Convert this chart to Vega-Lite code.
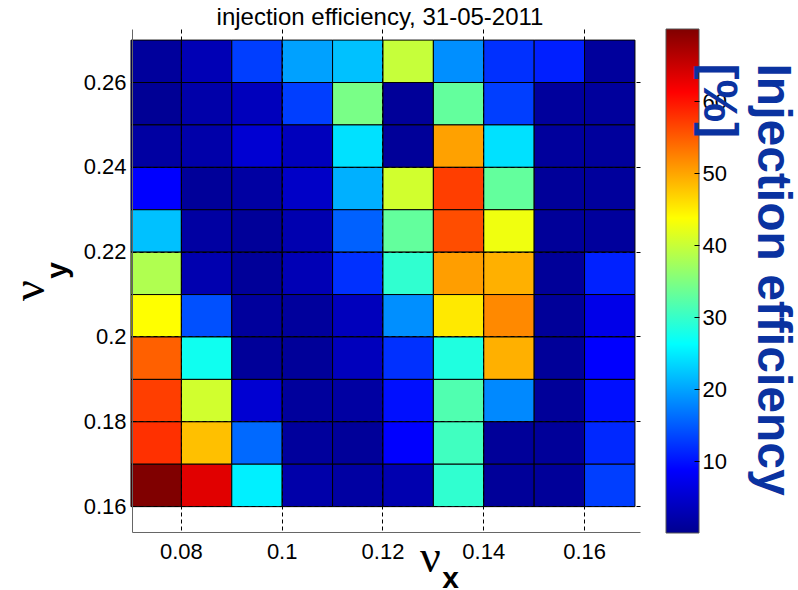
{
  "$schema": "https://vega.github.io/schema/vega-lite/v6.json",
  "background": "white",
  "padding": {"left": 6, "top": 6, "right": 0, "bottom": 0},
  "config": {"view": {"stroke": null}, "font": "Liberation Sans"},
  "bounds": "flush",
  "spacing": 26,
  "hconcat": [
    {
      "width": 508,
      "height": 503,
      "title": {"text": "injection efficiency, 31-05-2011", "fontSize": 24, "fontWeight": "normal", "font": "Liberation Sans", "color": "black", "baseline": "bottom", "offset": -25, "dx": -6, "frame": "group"},
      "data": {"values": [
        {"x": 0.07, "y": 0.26, "v": 1}, {"x": 0.08, "y": 0.26, "v": 3}, {"x": 0.09, "y": 0.26, "v": 13}, {"x": 0.10, "y": 0.26, "v": 19.8}, {"x": 0.11, "y": 0.26, "v": 22}, {"x": 0.12, "y": 0.26, "v": 39.8}, {"x": 0.13, "y": 0.26, "v": 18.5}, {"x": 0.14, "y": 0.26, "v": 12}, {"x": 0.15, "y": 0.26, "v": 10.9}, {"x": 0.16, "y": 0.26, "v": 1},
        {"x": 0.07, "y": 0.25, "v": 0.5}, {"x": 0.08, "y": 0.25, "v": 2}, {"x": 0.09, "y": 0.25, "v": 3.5}, {"x": 0.10, "y": 0.25, "v": 13}, {"x": 0.11, "y": 0.25, "v": 34.5}, {"x": 0.12, "y": 0.25, "v": 0.8}, {"x": 0.13, "y": 0.25, "v": 33}, {"x": 0.14, "y": 0.25, "v": 13}, {"x": 0.15, "y": 0.25, "v": 1}, {"x": 0.16, "y": 0.25, "v": 1},
        {"x": 0.07, "y": 0.24, "v": 1.5}, {"x": 0.08, "y": 0.24, "v": 2}, {"x": 0.09, "y": 0.24, "v": 5.2}, {"x": 0.10, "y": 0.24, "v": 3.5}, {"x": 0.11, "y": 0.24, "v": 24.2}, {"x": 0.12, "y": 0.24, "v": 0.8}, {"x": 0.13, "y": 0.24, "v": 50.2}, {"x": 0.14, "y": 0.24, "v": 24.2}, {"x": 0.15, "y": 0.24, "v": 1}, {"x": 0.16, "y": 0.24, "v": 1},
        {"x": 0.07, "y": 0.23, "v": 8.75}, {"x": 0.08, "y": 0.23, "v": 0.8}, {"x": 0.09, "y": 0.23, "v": 1.5}, {"x": 0.10, "y": 0.23, "v": 4.4}, {"x": 0.11, "y": 0.23, "v": 20.8}, {"x": 0.12, "y": 0.23, "v": 40.6}, {"x": 0.13, "y": 0.23, "v": 57}, {"x": 0.14, "y": 0.23, "v": 33}, {"x": 0.15, "y": 0.23, "v": 0.8}, {"x": 0.16, "y": 0.23, "v": 1},
        {"x": 0.07, "y": 0.22, "v": 22}, {"x": 0.08, "y": 0.22, "v": 1.5}, {"x": 0.09, "y": 0.22, "v": 0.8}, {"x": 0.10, "y": 0.22, "v": 2.5}, {"x": 0.11, "y": 0.22, "v": 15.4}, {"x": 0.12, "y": 0.22, "v": 33}, {"x": 0.13, "y": 0.22, "v": 56}, {"x": 0.14, "y": 0.22, "v": 42.7}, {"x": 0.15, "y": 0.22, "v": 0.8}, {"x": 0.16, "y": 0.22, "v": 1},
        {"x": 0.07, "y": 0.21, "v": 38.3}, {"x": 0.08, "y": 0.21, "v": 2.5}, {"x": 0.09, "y": 0.21, "v": 0.8}, {"x": 0.10, "y": 0.21, "v": 3}, {"x": 0.11, "y": 0.21, "v": 12}, {"x": 0.12, "y": 0.21, "v": 29.5}, {"x": 0.13, "y": 0.21, "v": 50.4}, {"x": 0.14, "y": 0.21, "v": 49.2}, {"x": 0.15, "y": 0.21, "v": 0.8}, {"x": 0.16, "y": 0.21, "v": 11},
        {"x": 0.07, "y": 0.20, "v": 43.75}, {"x": 0.08, "y": 0.20, "v": 14.2}, {"x": 0.09, "y": 0.20, "v": 1}, {"x": 0.10, "y": 0.20, "v": 1}, {"x": 0.11, "y": 0.20, "v": 3.5}, {"x": 0.12, "y": 0.20, "v": 18.5}, {"x": 0.13, "y": 0.20, "v": 45.3}, {"x": 0.14, "y": 0.20, "v": 51.9}, {"x": 0.15, "y": 0.20, "v": 0.8}, {"x": 0.16, "y": 0.20, "v": 7},
        {"x": 0.07, "y": 0.19, "v": 54.7}, {"x": 0.08, "y": 0.19, "v": 27.3}, {"x": 0.09, "y": 0.19, "v": 0.8}, {"x": 0.10, "y": 0.19, "v": 0.8}, {"x": 0.11, "y": 0.19, "v": 3.5}, {"x": 0.12, "y": 0.19, "v": 12}, {"x": 0.13, "y": 0.19, "v": 28.4}, {"x": 0.14, "y": 0.19, "v": 49.2}, {"x": 0.15, "y": 0.19, "v": 0.8}, {"x": 0.16, "y": 0.19, "v": 8.75},
        {"x": 0.07, "y": 0.18, "v": 57}, {"x": 0.08, "y": 0.18, "v": 40.6}, {"x": 0.09, "y": 0.18, "v": 5.2}, {"x": 0.10, "y": 0.18, "v": 1}, {"x": 0.11, "y": 0.18, "v": 1.5}, {"x": 0.12, "y": 0.18, "v": 9.8}, {"x": 0.13, "y": 0.18, "v": 31.7}, {"x": 0.14, "y": 0.18, "v": 18.1}, {"x": 0.15, "y": 0.18, "v": 0.8}, {"x": 0.16, "y": 0.18, "v": 9.8},
        {"x": 0.07, "y": 0.17, "v": 58}, {"x": 0.08, "y": 0.17, "v": 48.1}, {"x": 0.09, "y": 0.17, "v": 15.9}, {"x": 0.10, "y": 0.17, "v": 1}, {"x": 0.11, "y": 0.17, "v": 0.8}, {"x": 0.12, "y": 0.17, "v": 8.75}, {"x": 0.13, "y": 0.17, "v": 30.6}, {"x": 0.14, "y": 0.17, "v": 0.8}, {"x": 0.15, "y": 0.17, "v": 0.8}, {"x": 0.16, "y": 0.17, "v": 11.5},
        {"x": 0.07, "y": 0.16, "v": 70}, {"x": 0.08, "y": 0.16, "v": 63.3}, {"x": 0.09, "y": 0.16, "v": 25.2}, {"x": 0.10, "y": 0.16, "v": 2}, {"x": 0.11, "y": 0.16, "v": 1.5}, {"x": 0.12, "y": 0.16, "v": 2.5}, {"x": 0.13, "y": 0.16, "v": 29.5}, {"x": 0.14, "y": 0.16, "v": 0.8}, {"x": 0.15, "y": 0.16, "v": 0.8}, {"x": 0.16, "y": 0.16, "v": 13}
      ]},
      "layer": [
        {
          "mark": {"type": "rect", "stroke": "black", "strokeWidth": 1},
          "encoding": {
            "x": {"field": "x", "type": "quantitative", "bin": {"binned": true, "step": 0.01},
              "scale": {"domain": [0.0703, 0.1711], "nice": false, "zero": false},
              "axis": {"orient": "bottom", "values": [0.08, 0.1, 0.12, 0.14, 0.16], "format": ".2~f", "labelFontSize": 22, "labelColor": "black", "labelPadding": 9, "ticks": false, "domainColor": "#666666", "domainWidth": 1, "grid": true, "gridColor": "black", "gridDash": [4, 3], "gridWidth": 1, "gridOpacity": 1, "labelFlush": false, "labelOverlap": false,
                "title": "ν", "titleFont": "Liberation Serif", "titleFontSize": 46, "titleFontWeight": "normal", "titleColor": "black", "titleX": 298, "titleY": 39, "titleAlign": "center", "titleBaseline": "alphabetic"}},
            "y": {"field": "y", "type": "quantitative", "bin": {"binned": true, "step": 0.01},
              "scale": {"domain": [0.1539, 0.2725], "nice": false, "zero": false},
              "axis": {"orient": "left", "values": [0.16, 0.18, 0.2, 0.22, 0.24, 0.26], "format": ".2~f", "labelFontSize": 22, "labelColor": "black", "labelPadding": 6, "ticks": false, "domainColor": "#666666", "domainWidth": 1, "grid": true, "gridColor": "black", "gridDash": [4, 3], "gridWidth": 1, "gridOpacity": 1, "labelFlush": false, "labelOverlap": false,
                "title": "ν", "titleFont": "Liberation Serif", "titleFontSize": 46, "titleFontWeight": "normal", "titleColor": "black", "titleAngle": 270, "titleX": -89, "titleY": 261, "titleAlign": "center", "titleBaseline": "alphabetic"}},
            "color": {"field": "v", "type": "quantitative",
              "scale": {"domain": [0, 70], "range": ["#00008f", "#0000ff", "#0080ff", "#00ffff", "#80ff80", "#ffff00", "#ff8000", "#ff0000", "#800000"], "interpolate": "rgb"},
              "legend": null}
          }
        },
        {
          "mark": {"type": "rect", "opacity": 0},
          "encoding": {
            "x": {"field": "x", "type": "quantitative", "bin": {"binned": true, "step": 0.01},
              "axis": {"orient": "bottom", "labels": false, "ticks": false, "domain": false, "grid": false,
                "title": "x", "titleFont": "Liberation Sans", "titleFontSize": 30, "titleFontWeight": "bold", "titleColor": "black", "titleX": 318, "titleY": 55, "titleAlign": "center", "titleBaseline": "alphabetic"}},
            "y": {"field": "y", "type": "quantitative", "bin": {"binned": true, "step": 0.01},
              "axis": {"orient": "left", "labels": false, "ticks": false, "domain": false, "grid": false,
                "title": "y", "titleFont": "Liberation Sans", "titleFontSize": 30, "titleFontWeight": "bold", "titleColor": "black", "titleAngle": 270, "titleX": -66, "titleY": 241, "titleAlign": "center", "titleBaseline": "alphabetic"}}
          }
        }
      ],
      "resolve": {"axis": {"x": "independent", "y": "independent"}}
    },
    {
      "width": 33,
      "height": 504,
      "data": {"values": [{"lo": 0, "hi": 70}]},
      "mark": {"type": "rect", "stroke": "#555555", "strokeWidth": 1,
        "fill": {"gradient": "linear", "x1": 0, "y1": 1, "x2": 0, "y2": 0, "stops": [
          {"offset": 0, "color": "#00008f"}, {"offset": 0.125, "color": "#0000ff"}, {"offset": 0.25, "color": "#0080ff"},
          {"offset": 0.375, "color": "#00ffff"}, {"offset": 0.5, "color": "#80ff80"}, {"offset": 0.625, "color": "#ffff00"},
          {"offset": 0.75, "color": "#ff8000"}, {"offset": 0.875, "color": "#ff0000"}, {"offset": 1, "color": "#800000"}]}},
      "encoding": {
        "y": {"field": "lo", "type": "quantitative", "scale": {"domain": [0, 70], "nice": false, "zero": false},
          "axis": {"orient": "right", "values": [10, 20, 30, 40, 50, 60], "labelFontSize": 22, "labelColor": "black", "labelPadding": 8, "ticks": true, "tickSize": -5, "tickColor": "black", "tickWidth": 1, "domain": false, "grid": false, "labelFlush": false, "labelOverlap": false, "zindex": 1,
            "title": ["Injection efficiency", "[%]"], "titleFontSize": 48, "titleFontWeight": "bold", "titleColor": "#0a32a0", "titleAngle": 90, "titleAlign": "left", "titleBaseline": "alphabetic", "titleX": 58, "titleY": 34, "titleLineHeight": 54}},
        "y2": {"field": "hi"}
      }
    }
  ]
}
